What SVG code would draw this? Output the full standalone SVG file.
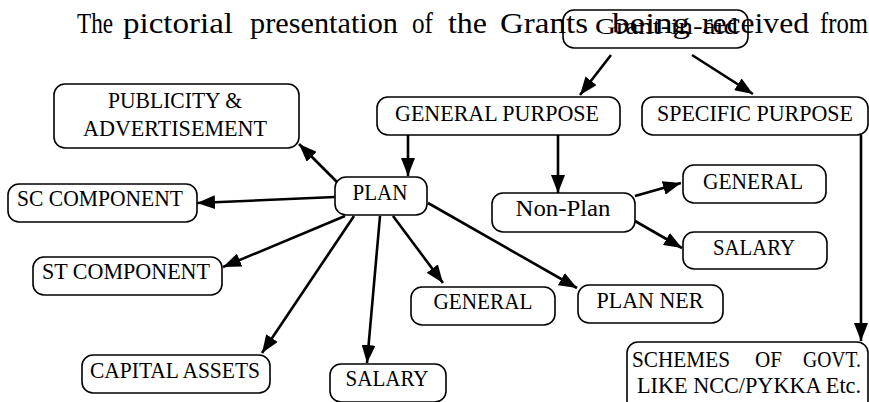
<svg xmlns="http://www.w3.org/2000/svg" width="869" height="402" viewBox="0 0 869 402">
<defs>
<marker id="ah" markerUnits="userSpaceOnUse" markerWidth="20" markerHeight="14" refX="18" refY="7" orient="auto">
<path d="M0,0 L18,7 L0,14 z" fill="#000"/>
</marker>
<style>
.box{fill:#fff;stroke:#000;stroke-width:1.6}
.t{font-family:"Liberation Serif","Times New Roman",serif;font-size:24px;fill:#000}
.c{text-anchor:middle}
.title{font-family:"Liberation Serif","Times New Roman",serif;font-size:30px;fill:#000}
.ln{stroke:#000;stroke-width:2.6;fill:none;marker-end:url(#ah)}
</style>
</defs>
<rect width="869" height="402" fill="#fff"/>
<g id="title">
<text class="title" y="33"><tspan x="77" textLength="36" lengthAdjust="spacingAndGlyphs">The</tspan><tspan x="123" textLength="110" lengthAdjust="spacingAndGlyphs">pictorial</tspan><tspan x="250" textLength="148" lengthAdjust="spacingAndGlyphs">presentation</tspan><tspan x="412" textLength="21" lengthAdjust="spacingAndGlyphs">of</tspan><tspan x="448" textLength="39" lengthAdjust="spacingAndGlyphs">the</tspan><tspan x="500" textLength="88" lengthAdjust="spacingAndGlyphs">Grants</tspan><tspan x="612" textLength="78" lengthAdjust="spacingAndGlyphs">being</tspan><tspan x="702" textLength="107" lengthAdjust="spacingAndGlyphs">received</tspan><tspan x="820" textLength="48" lengthAdjust="spacingAndGlyphs">from</tspan></text>
</g>
<g id="connectors">
<line class="ln" x1="611" y1="55" x2="580" y2="95"/>
<line class="ln" x1="692" y1="55" x2="753" y2="94"/>
<line class="ln" x1="408" y1="135" x2="408" y2="176"/>
<line class="ln" x1="558" y1="135" x2="558" y2="193"/>
<line class="ln" x1="861" y1="135" x2="861" y2="341"/>
<line class="ln" x1="635" y1="196" x2="681" y2="183"/>
<line class="ln" x1="635" y1="221" x2="682" y2="248"/>
<line class="ln" x1="337" y1="182" x2="299" y2="144"/>
<line class="ln" x1="335" y1="197" x2="197" y2="203"/>
<line class="ln" x1="345" y1="216" x2="223" y2="267"/>
<line class="ln" x1="354" y1="216" x2="262" y2="353"/>
<line class="ln" x1="380" y1="216" x2="367" y2="363"/>
<line class="ln" x1="393" y1="216" x2="443" y2="283"/>
<line class="ln" x1="428" y1="203" x2="577" y2="288"/>
</g>
<g id="grant-in-aid">
<rect class="box" x="563" y="10" width="185" height="38" rx="11" style="fill:none"/>
<text class="t" x="595" y="34" font-size="22" textLength="143" lengthAdjust="spacingAndGlyphs">Grant-in-aid</text>
</g>
<g id="general-purpose">
<rect class="box" x="377" y="97" width="243" height="38" rx="11"/>
<text class="t c" x="497" y="121" textLength="204" lengthAdjust="spacingAndGlyphs">GENERAL PURPOSE</text>
</g>
<g id="specific-purpose">
<rect class="box" x="642" y="97" width="226" height="38" rx="11"/>
<text class="t c" x="755" y="121" textLength="196" lengthAdjust="spacingAndGlyphs">SPECIFIC PURPOSE</text>
</g>
<g id="plan">
<rect class="box" x="335" y="177" width="92" height="38" rx="11"/>
<text class="t c" x="380" y="200" textLength="55" lengthAdjust="spacingAndGlyphs">PLAN</text>
</g>
<g id="non-plan">
<rect class="box" x="492" y="193" width="143" height="39" rx="11"/>
<text class="t c" x="563" y="216" textLength="95" lengthAdjust="spacingAndGlyphs">Non-Plan</text>
</g>
<g id="np-general">
<rect class="box" x="683" y="165" width="143" height="38" rx="11"/>
<text class="t c" x="753" y="189" textLength="100" lengthAdjust="spacingAndGlyphs">GENERAL</text>
</g>
<g id="np-salary">
<rect class="box" x="683" y="232" width="144" height="37" rx="11"/>
<text class="t c" x="754" y="255" textLength="82" lengthAdjust="spacingAndGlyphs">SALARY</text>
</g>
<g id="plan-general">
<rect class="box" x="411" y="287" width="144" height="38" rx="11"/>
<text class="t c" x="483" y="309" textLength="99" lengthAdjust="spacingAndGlyphs">GENERAL</text>
</g>
<g id="plan-ner">
<rect class="box" x="578" y="285" width="145" height="38" rx="11"/>
<text class="t c" x="650" y="308" textLength="107" lengthAdjust="spacingAndGlyphs">PLAN NER</text>
</g>
<g id="publicity">
<rect class="box" x="54" y="84" width="245" height="64" rx="11"/>
<text class="t c" x="175" y="108" textLength="134" lengthAdjust="spacingAndGlyphs">PUBLICITY &amp;</text>
<text class="t c" x="175" y="136" textLength="184" lengthAdjust="spacingAndGlyphs">ADVERTISEMENT</text>
</g>
<g id="sc-component">
<rect class="box" x="8" y="184" width="189" height="38" rx="11"/>
<text class="t c" x="100" y="206" textLength="166" lengthAdjust="spacingAndGlyphs">SC COMPONENT</text>
</g>
<g id="st-component">
<rect class="box" x="33" y="257" width="189" height="38" rx="11"/>
<text class="t c" x="126" y="279" textLength="168" lengthAdjust="spacingAndGlyphs">ST COMPONENT</text>
</g>
<g id="capital-assets">
<rect class="box" x="82" y="355" width="188" height="38" rx="11"/>
<text class="t c" x="175" y="378" textLength="170" lengthAdjust="spacingAndGlyphs">CAPITAL ASSETS</text>
</g>
<g id="plan-salary">
<rect class="box" x="330" y="364" width="116" height="38" rx="11"/>
<text class="t c" x="387" y="386" textLength="83" lengthAdjust="spacingAndGlyphs">SALARY</text>
</g>
<g id="schemes">
<rect class="box" x="627" y="342" width="241" height="70" rx="11"/>
<text class="t" y="367"><tspan x="632" textLength="98" lengthAdjust="spacingAndGlyphs">SCHEMES</tspan><tspan x="755" textLength="27" lengthAdjust="spacingAndGlyphs">OF</tspan><tspan x="803" textLength="58" lengthAdjust="spacingAndGlyphs">GOVT.</tspan></text>
<text class="t" x="637" y="393" textLength="224" lengthAdjust="spacingAndGlyphs">LIKE NCC/PYKKA Etc.</text>
</g>
</svg>
